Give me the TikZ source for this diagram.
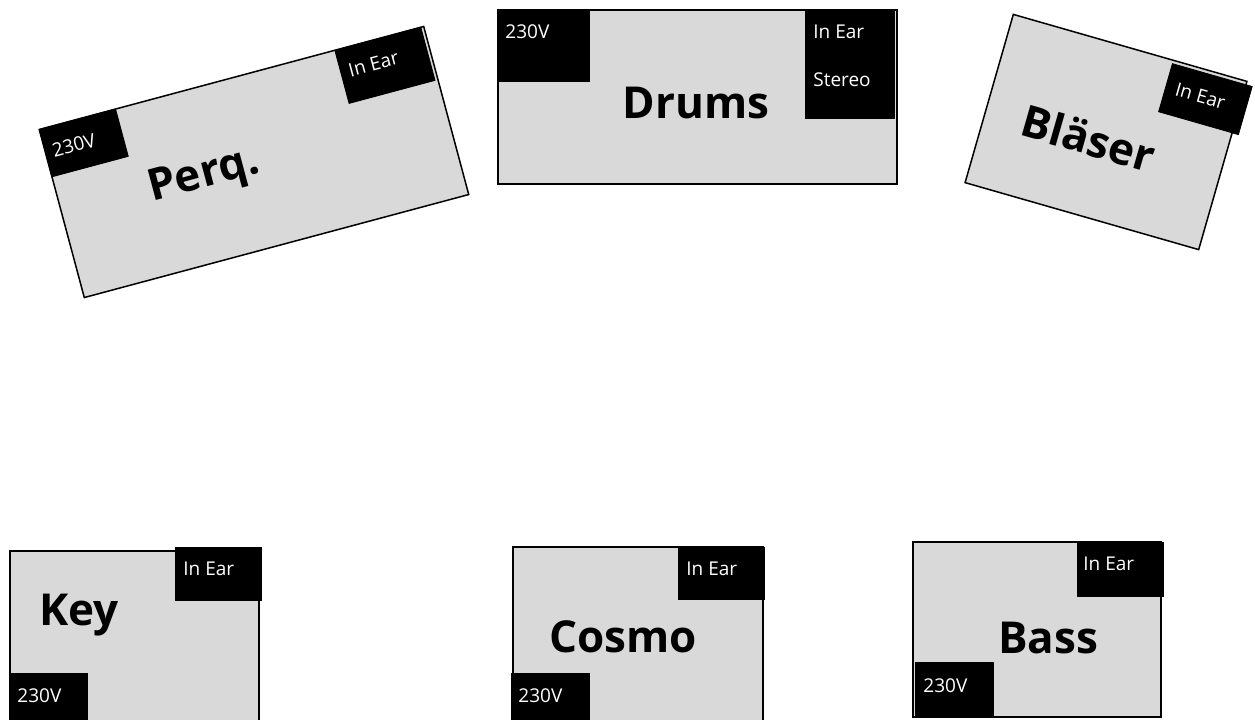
\documentclass[tikz,border=0pt]{standalone}
\usepackage{fontspec}
\setmainfont{Open Sans}
\usetikzlibrary{calc}
\definecolor{stagegray}{HTML}{D9D9D9}
\tikzset{
	stage/.style={draw=black, fill=stagegray, line width=0.75pt},
	plugtext/.style={text=white, font=\fontsize{9.5}{11}\selectfont, inner sep=0pt, anchor=base west},
	stagename/.style={font=\fontsize{22}{26}\selectfont\bfseries, inner sep=0pt, anchor=base},
}

\begin{document}
\begin{tikzpicture}[x=0.5pt, y=-0.5pt]
			%%%%% START %%%%%
			\useasboundingbox (0, 0) rectangle (1255, 719);
			\clip (0, 0) rectangle (1255, 719);
			
			% Perq.
			\begin{scope}[shift={(254, 162)}, rotate=15, transform shape]
				\draw[stage] (-199, -87) rectangle (199, 87);
				\draw[fill=black] (-199, -87) rectangle (-120, -38);
				\draw[fill=black] (107, -87) rectangle (196, -32);
				\node[plugtext] (perqpower) at (-192, -56) {230V};
				\node[plugtext] (perqear) at (115, -57) {In Ear};
				\node[stagename] (perq) at (-52, 12) {Perq.};
			\end{scope}
			
			% Drums
			\draw[stage] (498, 10) rectangle (897, 184);
			\draw[fill=black] (497, 10) rectangle (589, 81);
			\draw[fill=black] (805, 10) rectangle (894, 118);
			\node[plugtext] (drumspower) at (505, 38) {230V};
			\node[plugtext] (drumsear) at (813, 38) {In Ear};
			\node[plugtext] (drumsstereo) at (813, 86) {Stereo};
			\node[stagename] (drums) at (696, 118) {Drums};
			
			% Bläser
			\begin{scope}[shift={(1106, 132)}, rotate=-16, transform shape]
				\draw[stage] (-121.5, -87.5) rectangle (121.5, 87.5);
				\draw[fill=black] (45, -84) rectangle (128, -34);
				\node[plugtext] (blaeserear) at (55, -54) {In Ear};
				\node[stagename] (blaeser) at (-15, 27) {Bläser};
			\end{scope}
			
			% Key
			\draw[stage] (10, 551) rectangle (259, 725);
			\draw[fill=black] (175, 547) rectangle (261, 600);
			\draw[fill=black] (9, 673) rectangle (87, 725);
			\node[plugtext] (keyear) at (183, 575) {In Ear};
			\node[plugtext] (keypower) at (17, 702) {230V};
			\node[stagename] (key) at (79, 625) {Key};
			
			% Cosmo
			\draw[stage] (513, 547) rectangle (763, 725);
			\draw[fill=black] (678, 547) rectangle (764, 599);
			\draw[fill=black] (511, 673) rectangle (589, 725);
			\node[plugtext] (cosmoear) at (686, 575) {In Ear};
			\node[plugtext] (cosmopower) at (518, 702) {230V};
			\node[stagename] (cosmo) at (623, 652) {Cosmo};
			
			% Bass
			\draw[stage] (913, 542) rectangle (1161, 717);
			\draw[fill=black] (1077, 542) rectangle (1163, 596);
			\draw[fill=black] (915, 662) rectangle (993, 717);
			\node[plugtext] (bassear) at (1083, 570) {In Ear};
			\node[plugtext] (basspower) at (923, 692) {230V};
			\node[stagename] (bass) at (1048, 653) {Bass};
			
			%%%%% END %%%%%
\end{tikzpicture}
\end{document}
